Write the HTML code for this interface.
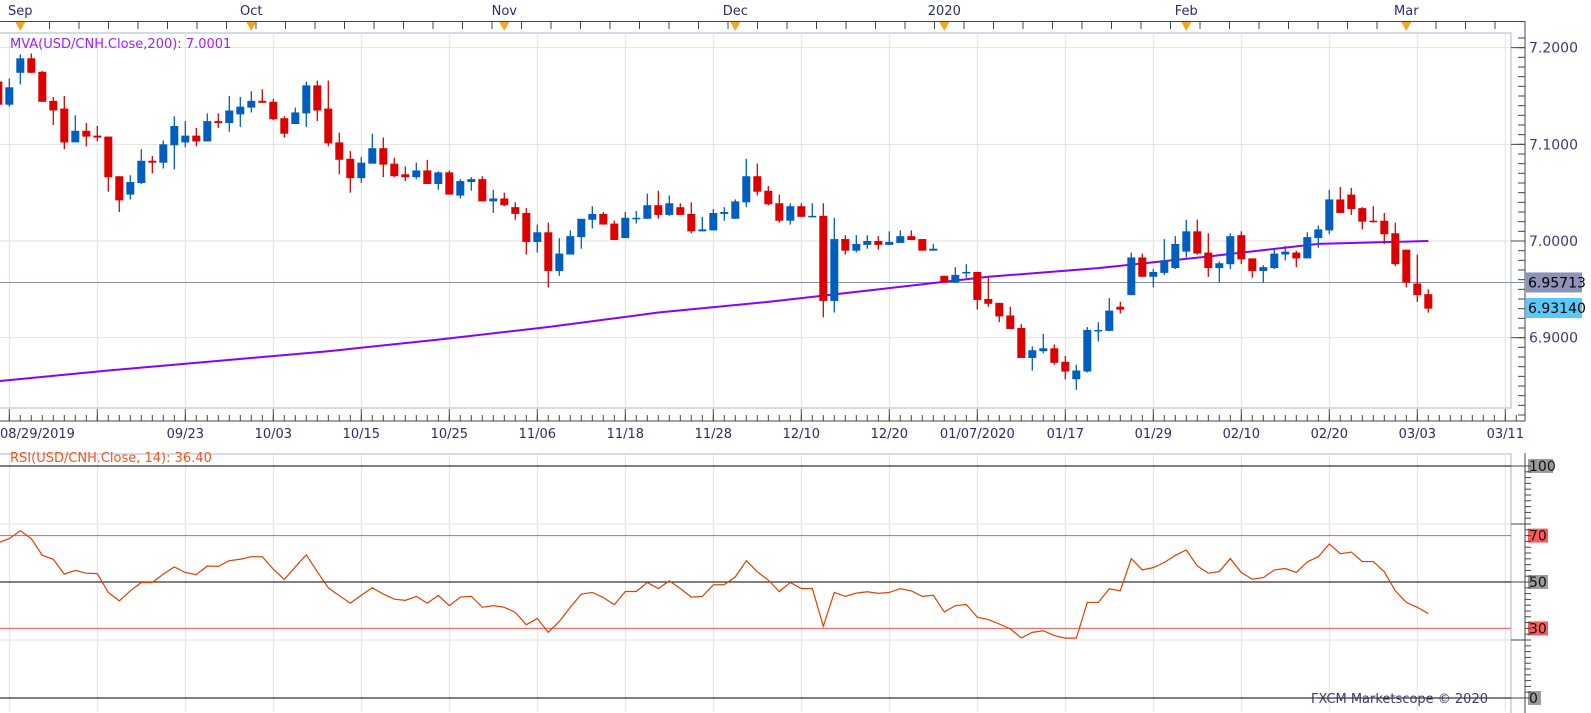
<!DOCTYPE html>
<html><head><meta charset="utf-8">
<style>
html,body{margin:0;padding:0;background:#fff;width:1591px;height:713px;overflow:hidden}
svg text{font-family:"DejaVu Sans","Liberation Sans",sans-serif}
</style></head>
<body>
<svg id="chart" xmlns="http://www.w3.org/2000/svg" width="1591" height="713" viewBox="0 0 1591 713"></svg>
<script>
// ---- data ----
const opens=[7.165,7.141,7.174,7.189,7.175,7.145,7.137,7.102,7.114,7.109,7.108,7.067,7.048,7.060,7.083,7.081,7.099,7.102,7.109,7.103,7.124,7.122,7.131,7.138,7.145,7.144,7.127,7.121,7.132,7.161,7.137,7.102,7.085,7.065,7.080,7.096,7.080,7.069,7.066,7.073,7.059,7.071,7.047,7.061,7.064,7.041,7.044,7.035,7.029,6.999,7.009,6.969,6.986,7.004,7.022,7.028,7.018,7.003,7.023,7.023,7.037,7.027,7.035,7.028,7.010,7.011,7.028,7.023,7.040,7.067,7.052,7.039,7.021,7.036,7.025,7.026,6.938,7.002,6.990,6.996,7.000,6.996,6.998,7.005,7.002,6.990,6.964,6.957,6.967,6.968,6.940,6.936,6.923,6.910,6.879,6.886,6.889,6.875,6.857,6.865,6.907,6.907,6.932,6.944,6.983,6.963,6.967,6.972,6.989,7.010,6.988,6.972,6.976,7.006,6.982,6.969,6.972,6.986,6.988,6.982,7.003,7.011,7.043,7.048,7.034,7.021,7.021,7.008,6.991,6.956,6.945];
const highs=[7.172,7.168,7.193,7.194,7.176,7.149,7.150,7.130,7.122,7.119,7.108,7.067,7.068,7.095,7.088,7.104,7.129,7.124,7.117,7.132,7.132,7.150,7.149,7.155,7.157,7.147,7.129,7.138,7.165,7.166,7.166,7.112,7.093,7.087,7.111,7.107,7.086,7.077,7.081,7.084,7.072,7.073,7.064,7.066,7.067,7.053,7.050,7.040,7.034,7.017,7.019,7.003,7.011,7.023,7.036,7.030,7.021,7.030,7.031,7.049,7.052,7.047,7.039,7.040,7.025,7.033,7.035,7.043,7.085,7.080,7.057,7.048,7.039,7.039,7.039,7.039,7.024,7.006,7.006,7.006,7.005,7.010,7.011,7.011,7.002,6.997,6.964,6.973,6.976,6.968,6.963,6.936,6.932,6.914,6.891,6.904,6.893,6.881,6.872,6.911,6.916,6.941,6.937,6.988,6.987,6.971,7.002,7.005,7.022,7.022,7.008,6.979,7.008,7.010,6.982,6.975,6.991,6.995,6.990,7.009,7.016,7.053,7.056,7.055,7.035,7.036,7.029,7.019,6.991,6.986,6.950];
const lows=[7.139,7.139,7.162,7.174,7.144,7.120,7.095,7.102,7.098,7.103,7.051,7.030,7.043,7.059,7.070,7.075,7.074,7.097,7.098,7.103,7.117,7.113,7.118,7.133,7.143,7.125,7.107,7.121,7.118,7.124,7.098,7.069,7.050,7.060,7.080,7.066,7.066,7.062,7.064,7.059,7.053,7.048,7.044,7.052,7.041,7.029,7.036,7.022,6.986,6.988,6.952,6.964,6.986,6.992,7.013,7.017,7.001,7.003,7.018,7.023,7.023,7.026,7.027,7.008,7.010,7.011,7.021,7.023,7.035,7.047,7.037,7.019,7.017,7.025,7.025,6.921,6.926,6.986,6.988,6.992,6.991,6.996,6.998,7.001,6.990,6.990,6.957,6.957,6.962,6.929,6.932,6.916,6.909,6.879,6.866,6.884,6.872,6.857,6.846,6.864,6.896,6.907,6.925,6.944,6.963,6.952,6.965,6.971,6.983,6.986,6.963,6.957,6.971,6.976,6.962,6.957,6.971,6.980,6.973,6.982,6.993,7.007,7.029,7.027,7.012,7.019,6.997,6.974,6.952,6.937,6.926];
const closes=[7.141,7.159,7.189,7.174,7.144,7.135,7.102,7.114,7.108,7.107,7.066,7.042,7.061,7.083,7.081,7.100,7.119,7.109,7.103,7.124,7.122,7.135,7.139,7.145,7.143,7.126,7.111,7.133,7.161,7.135,7.101,7.084,7.065,7.081,7.096,7.079,7.067,7.066,7.073,7.059,7.071,7.048,7.062,7.064,7.041,7.044,7.037,7.028,6.999,7.009,6.969,6.987,7.005,7.023,7.028,7.017,7.001,7.024,7.024,7.037,7.027,7.039,7.027,7.010,7.012,7.029,7.030,7.041,7.067,7.051,7.038,7.021,7.036,7.025,7.026,6.938,7.002,6.990,6.997,7.000,6.996,6.999,7.005,7.001,6.990,6.992,6.957,6.965,6.968,6.939,6.935,6.922,6.909,6.879,6.887,6.889,6.874,6.865,6.866,6.908,6.908,6.928,6.929,6.983,6.963,6.968,6.980,6.997,7.010,6.987,6.972,6.977,7.005,6.981,6.969,6.973,6.987,6.989,6.982,7.004,7.012,7.043,7.029,7.033,7.020,7.020,7.007,6.976,6.957,6.944,6.930];
const mvaIdx=[0,10,20,30,40,50,60,70,80,90,100,110,120,130];
const mvaVals=[6.855,6.866,6.876,6.886,6.898,6.911,6.926,6.937,6.950,6.963,6.972,6.984,6.997,7.000];
const rsiVals=[66.9,68.7,72.1,68.7,61.5,59.8,53.4,55.0,53.8,53.6,45.5,41.9,46.2,49.8,49.8,53.4,56.5,54.1,53.2,56.9,56.7,59.2,59.8,60.9,60.9,55.5,51.1,56.5,61.7,54.4,47.5,44.1,40.9,44.3,47.5,44.8,42.6,42.1,43.8,40.9,44.2,39.8,43.5,43.8,39.1,39.8,39.1,36.9,31.6,34.3,28.3,33.0,39.1,44.8,45.5,43.3,40.2,45.9,45.9,49.8,47.2,50.5,47.2,43.5,43.8,48.8,
48.9,52.2,59.2,54.4,50.8,45.9,49.8,47.2,47.2,30.9,45.5,43.8,45.2,45.8,45.1,45.5,47.1,46.2,43.8,44.3,37.1,39.8,40.3,34.8,33.8,31.9,29.8,25.9,28.3,29.0,26.9,25.8,25.8,41.2,41.2,47.1,46.2,60.1,55.2,56.2,58.4,61.5,63.8,56.9,53.8,54.5,60.1,54.1,51.2,51.9,55.2,55.8,54.1,58.7,60.9,66.4,62.2,62.9,58.8,58.8,54.4,46.2,41.2,39.1,36.4];
const priceTicks=[7.2,7.1,7.0,6.9];
const priceTickLabels=["7.2000","7.1000","7.0000","6.9000"];
const dateLabels=["08/29/2019","","09/23","10/03","10/15","10/25","11/06","11/18","11/28","12/10","12/20","01/07/2020","01/17","01/29","02/10","02/20","03/03","03/11"];
const monthLabels=["Sep","Oct","Nov","Dec","2020","Feb","Mar"];
const monthIdx=[2,23,46,67,86,108,128];
const rsiLevels=[100,70,50,30,0];
const lastClose=6.93140, refLevel=6.95713;

// ---- axes ----
const X=i=>-1.7+11*i;
const Y=p=>241-(p-7)*966.7;
const R=v=>698-v*2.32;
const svg=document.getElementById('chart');
const NS="http://www.w3.org/2000/svg";
function mk(tag,attrs,parent){const e=document.createElementNS(NS,tag);for(const k in attrs)e.setAttribute(k,attrs[k]);(parent||svg).appendChild(e);return e;}
function txt(s,attrs,parent){const e=mk('text',attrs,parent);e.textContent=s;return e;}

// frames
let g=mk('g',{});


mk('rect',{x:-2,y:33,width:1513,height:375,fill:'none',stroke:'#d3dbe6','stroke-width':2},g);
mk('rect',{x:-2,y:454,width:1513,height:262,fill:'none',stroke:'#d3dbe6','stroke-width':2},g);
// vertical grid
for(let k=0;k<18;k++){const x=9.3+88*k;
 mk('line',{x1:x,x2:x,y1:34,y2:407,stroke:'#e2e2e2'},g);
 mk('line',{x1:x,x2:x,y1:455,y2:711,stroke:'#e2e2e2'},g);}
priceTicks.forEach((p,i)=>{const y=Y(p);
 mk('line',{x1:0,x2:1510,y1:y,y2:y,stroke:'#e2e2e2'},g);
 mk('line',{x1:1511,x2:1525,y1:y,y2:y,stroke:'#444'},g);
 const t=txt(priceTickLabels[i],{x:1529,y:y+5,'font-size':14,fill:'#3a3a78'});
 
 });
for(let p=6.82;p<7.215;p+=0.01){const y=Y(p);mk('line',{x1:1518,x2:1525,y1:y,y2:y,stroke:'#444'},g);}
// axes lines
mk('line',{x1:1525,x2:1525,y1:21,y2:421,stroke:'#444'},g);
mk('line',{x1:0,x2:1525,y1:421,y2:421,stroke:'#444'},g);
mk('line',{x1:0,x2:1525,y1:21.5,y2:21.5,stroke:'#444'},g);
for(let i=0;i<=138;i++){const x=X(i);mk('line',{x1:x,x2:x,y1:421,y2:415,stroke:'#444'},g);}
for(let k=0;k<18;k++){const x=9.3+88*k;mk('line',{x1:x,x2:x,y1:421,y2:409,stroke:'#444'},g);}
for(let x=20;x<1520;x+=29.5){mk('line',{x1:x,x2:x,y1:21,y2:29,stroke:'#444'},g);}
// date labels
dateLabels.forEach((s,k)=>{if(!s)return;const x=9.3+88*k;
 const t=txt(s,{x:k===0?0:x,y:438,'font-size':13,fill:'#2c2c6c','text-anchor':k===0?'start':'middle'});
 
 });
// month markers
monthLabels.forEach((s,k)=>{const x=X(monthIdx[k]);
 const t=txt(s,{x:x,y:15,'font-size':13,fill:'#2c2c6c','text-anchor':'middle'});
 
 
 const m=mk('path',{d:`M${x-5},22 L${x+5},22 L${x},31 Z`,fill:'#f5a623'});
 
 });
// reference line
mk('line',{x1:0,x2:1525,y1:Y(refLevel),y2:Y(refLevel),stroke:'#8a8fb0'},g);

// MVA
const mpts=mvaIdx.map((i,k)=>`${X(i)},${Y(mvaVals[k])}`).join(' ');
const mva=mk('polyline',{points:mpts,fill:'none',stroke:'#8a00ff','stroke-width':2});



// candles
opens.forEach((o,i)=>{const c=closes[i],up=c>=o,col=up?'#005ebf':'#dd0000',x=X(i);
 const cg=mk('g',{});
 
 
 mk('line',{x1:x,x2:x,y1:Y(highs[i]),y2:Y(lows[i]),stroke:col,'stroke-width':1.3},cg);
 const t=Y(Math.max(o,c)),b=Y(Math.min(o,c));
 mk('rect',{x:x-4,y:t,width:8,height:Math.max(b-t,1.5),fill:col},cg);});

// price labels
function box(v,bg,y){const r=mk('rect',{x:1526,y:y-10,width:56,height:20,fill:bg});
 
 
 txt(v.toFixed(5),{x:1528,y:y+5,'font-size':14,fill:'#000'});}
box(refLevel,'#8c93b8',Y(refLevel));
box(lastClose,'#5cc8f8',308);
let t=txt('MVA(USD/CNH.Close,200):  7.0001',{x:10,y:48,'font-size':13,fill:'#9a1fff'});



// RSI panel
const rg=mk('g',{});


[75,25].forEach(v=>mk('line',{x1:0,x2:1510,y1:R(v),y2:R(v),stroke:'#e2e2e2'},rg));
rsiLevels.forEach(v=>{const y=R(v),red=(v===70||v===30);
 mk('line',{x1:0,x2:1511,y1:y,y2:y,stroke:red?'#ff5050':'#000'},rg);
 const w=v===100?25:(v===0?13:20);
 const b=mk('rect',{x:1528,y:y-7,width:w,height:14,fill:red?'#ff5a5a':'#9c9c9c'},rg);
 
 
 txt(String(v),{x:1529,y:y+5,'font-size':14,fill:'#111'},rg);});
mk('line',{x1:1525,x2:1525,y1:453,y2:713,stroke:'#444'},rg);
for(let v=0;v<=102;v+=2.5){const y=R(v);mk('line',{x1:1525,x2:1531,y1:y,y2:y,stroke:'#444'},rg);}
[0,25,50,75,100].forEach(v=>mk('line',{x1:1511,x2:1525,y1:R(v),y2:R(v),stroke:'#444'},rg));
const rpts=rsiVals.map((v,i)=>`${X(i)},${R(v)}`).join(' ');
const rl=mk('polyline',{points:rpts,fill:'none',stroke:'#e04000','stroke-width':1.2});


t=txt('RSI(USD/CNH.Close, 14): 36.40',{x:10,y:462,'font-size':13,fill:'#f0551e'});


t=txt('FXCM Marketscope © 2020',{x:1488,y:703,'font-size':13,fill:'#3a3a6e','text-anchor':'end'});


</script>
</body></html>
